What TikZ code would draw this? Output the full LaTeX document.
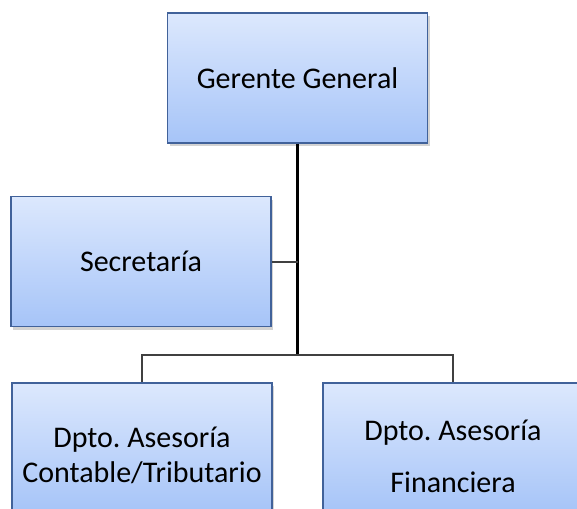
\documentclass[tikz,border=0pt]{standalone}
\usepackage{fontspec}
\setmainfont{Carlito}
\usetikzlibrary{shadows}
\definecolor{boxtop}{HTML}{DCE8FD}
\definecolor{boxbot}{HTML}{A6C4F8}
\definecolor{boxline}{HTML}{41629A}
\begin{document}
\frenchspacing
\begin{tikzpicture}[x=1pt,y=-1pt,
	box/.style={draw=boxline,line width=1.5pt,top color=boxtop,bottom color=boxbot,
		minimum width=260pt,minimum height=130pt,align=center,
		font=\fontsize{30}{35}\selectfont,
		drop shadow={shadow xshift=2pt,shadow yshift=-3pt,opacity=0.35}},
	link/.style={draw=black!75,line width=2pt}]
		\useasboundingbox (0,0) rectangle (577,508);
		\node[box] (gg) at (297.5,78) {Gerente General};
		\node[box] (sec) at (141,261.5) {Secretaría};
		\node[box] (dac) at (142,448) {\rule{0pt}{36pt}Dpto. Asesoría\\Contable/Tributario};
		\node[box] (daf) at (453,448) {\rule{0pt}{38pt}Dpto. Asesoría\\[17pt]Financiera};
		\coordinate (j) at (297.5,355);
		\draw[line width=3.5pt] (gg.south) -- (j);
		\draw[link] (sec.east) -- (sec.east -| j);
		\draw[link] (j) -| (dac.north);
		\draw[link] (j) -| (daf.north);
\end{tikzpicture}
\end{document}
